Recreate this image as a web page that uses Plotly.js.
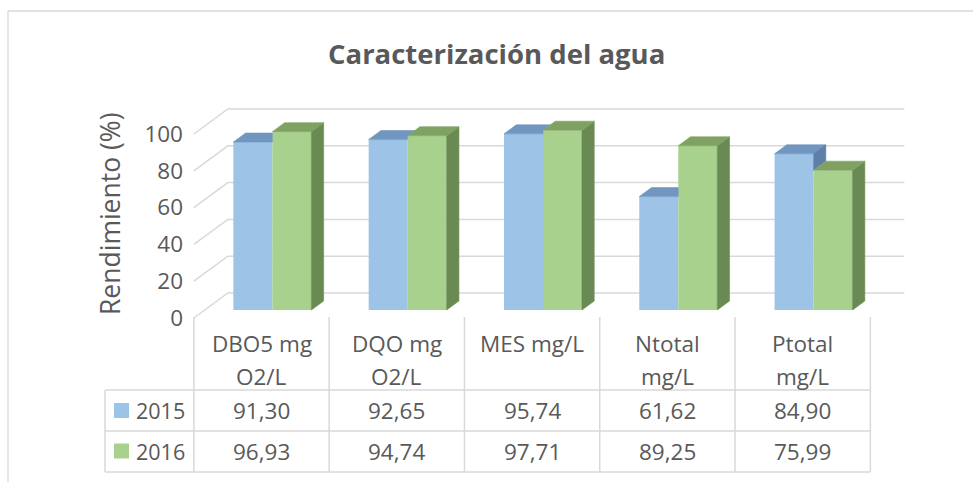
<!DOCTYPE html>
<html><head><meta charset="utf-8">
<script src="https://cdn.plot.ly/plotly-3.0.1.min.js"></script>
<style>html,body{margin:0;padding:0;background:#fff;} #chart{width:973px;height:482px;}</style>
</head><body><div id="chart"></div>
<script>
// ---- data ----
const chartTitle = "Caracterización del agua";
const yTitle = "Rendimiento (%)";
const categoryLines = [["DBO5 mg","O2/L"],["DQO mg","O2/L"],["MES mg/L"],["Ntotal","mg/L"],["Ptotal","mg/L"]];
const seriesNames = ["2015","2016"];
const values2015 = [91.30, 92.65, 95.74, 61.62, 84.90];
const values2016 = [96.93, 94.74, 97.71, 89.25, 75.99];
const yTicks = [0, 20, 40, 60, 80, 100];

// ---- styles ----
const TXT = '#595959', GRID = '#d9d9d9', FONT = 'Open Sans, sans-serif';
const blue = {front:'#9DC3E6', top:'#7196c0', side:'#5e7fa8'};
const green = {front:'#A9D18E', top:'#7fa263', side:'#6a8a53'};
const TABLE_FS = 22.5, TICK_FS = 22.5;

// ---- geometry (pixel mapping of the oblique 3D view) ----
const W = 973, H = 482;
const X0 = 261.5, XS = 135.3, Y0 = 318, YS = 1.84;
const xr = [-X0/XS, (W-X0)/XS], yr = [(Y0-H)/YS, Y0/YS];
const DX = 34/XS, DY = 25/YS;           // full floor depth offset in data units
const d0 = 0.32, d1 = 0.68;             // bar depth slab
const bx = d0*DX, by = d0*DY, ddx = (d1-d0)*DX, ddy = (d1-d0)*DY;
const BW = 39/XS;
const nCat = categoryLines.length;
const PX = p => p/W, PY = p => 1 - p/H;

const traces = [];
traces.push({type:'bar', name:seriesNames[0], x: values2015.map((v,i)=>i+bx-BW/2), y: values2015, base: by, width: BW,
  marker:{color:blue.front, line:{width:0}}, hoverinfo:'skip', showlegend:false});
traces.push({type:'bar', name:seriesNames[1], x: values2016.map((v,i)=>i+bx+BW/2), y: values2016, base: by, width: BW,
  marker:{color:green.front, line:{width:0}}, hoverinfo:'skip', showlegend:false});

function poly(pts, color){
  traces.push({type:'scatter', mode:'lines', x: pts.map(p=>p[0]).concat([pts[0][0]]), y: pts.map(p=>p[1]).concat([pts[0][1]]),
    fill:'toself', fillcolor: color, line:{color: color, width:0.6}, hoverinfo:'skip', showlegend:false});
}
for (let i = 0; i < nCat; i++) {
  const xb0 = i+bx-BW, xg0 = i+bx, xg1 = i+bx+BW;
  const vb = by + values2015[i], vg = by + values2016[i];
  if (vg >= vb) {
    poly([[xb0,vb],[xg0,vb],[xg0,Math.min(vg,vb+ddy)],[xg0+Math.max(0,vb+ddy-vg)*ddx/ddy, vb+ddy],[xb0+ddx,vb+ddy]], blue.top);
  } else {
    poly([[xb0,vb],[xg0,vb],[xg0+ddx,vb+ddy],[xb0+ddx,vb+ddy]], blue.top);
    poly([[xg0,vg],[xg0,vb],[xg0+ddx,vb+ddy],[xg0+ddx,vg+ddy]], blue.side);
  }
  poly([[xg1,by],[xg1,vg],[xg1+ddx,vg+ddy],[xg1+ddx,by+ddy]], green.side);
  poly([[xg0,vg],[xg1,vg],[xg1+ddx,vg+ddy],[xg0+ddx,vg+ddy]], green.top);
}

// ---- walls / gridlines ----
const shapes = [];
const xL = -0.5, xR = nCat - 0.5;
yTicks.forEach(v => {
  shapes.push({type:'path', xref:'x', yref:'y', layer:'below',
    path:`M ${xL},${v} L ${xL+DX},${v+DY} L ${xR+DX},${v+DY}`, line:{color:GRID, width:1.5}});
});
// chart border
shapes.push({type:'line', xref:'paper', yref:'paper', x0:PX(8), x1:PX(975), y0:PY(11), y1:PY(11), line:{color:GRID, width:1.3}});
shapes.push({type:'line', xref:'paper', yref:'paper', x0:PX(8), x1:PX(8), y0:PY(11), y1:PY(490), line:{color:GRID, width:1.3}});
// data table lines
const rowLines = [390, 431, 472];
for (let i = 0; i <= nCat; i++) {
  const x = PX(X0 + XS*(i-0.5));
  shapes.push({type:'line', xref:'paper', yref:'paper', x0:x, x1:x, y0:PY(317), y1:PY(472), line:{color:GRID, width:1.5}});
}
rowLines.forEach(y => shapes.push({type:'line', xref:'paper', yref:'paper', x0:PX(105), x1:PX(X0+XS*(nCat-0.5)), y0:PY(y), y1:PY(y), line:{color:GRID, width:1.5}}));
shapes.push({type:'line', xref:'paper', yref:'paper', x0:PX(105), x1:PX(105), y0:PY(390), y1:PY(472), line:{color:GRID, width:1.5}});

// ---- annotations ----
const ann = [];
ann.push({xref:'paper', yref:'paper', x:PX(496.5), y:PY(53), text:'<b>'+chartTitle+'</b>', showarrow:false,
  xanchor:'center', yanchor:'middle', font:{family:FONT, size:27.5, color:TXT}});
ann.push({xref:'paper', yref:'paper', x:PX(110), y:PY(214), text:yTitle, textangle:-90, showarrow:false,
  xanchor:'center', yanchor:'middle', font:{family:FONT, size:26.5, color:TXT}});
const lineY = [343, 376];
categoryLines.forEach((lines, i) => lines.forEach((t, k) => ann.push({xref:'paper', yref:'paper', x:PX(X0+XS*i), y:PY(lineY[k]),
  text:t, showarrow:false, xanchor:'center', yanchor:'middle', font:{family:FONT, size:TABLE_FS, color:TXT}})));
const rowY = [410.5, 451];
const seriesVals = [values2015, values2016];
const seriesCols = [blue.front, green.front];
seriesVals.forEach((vals, r) => {
  vals.forEach((v, i) => ann.push({xref:'paper', yref:'paper', x:PX(X0+XS*i), y:PY(rowY[r]), text:v.toFixed(2).replace('.', ','),
    showarrow:false, xanchor:'center', yanchor:'middle', font:{family:FONT, size:TABLE_FS, color:TXT}}));
  ann.push({xref:'paper', yref:'paper', x:PX(134), y:PY(rowY[r]), text:seriesNames[r], showarrow:false,
    xanchor:'left', yanchor:'middle', font:{family:FONT, size:TABLE_FS-1, color:TXT}});
  shapes.push({type:'rect', xref:'paper', yref:'paper', x0:PX(114), x1:PX(129), y0:PY(rowY[r]-7.5), y1:PY(rowY[r]+7.5),
    fillcolor:seriesCols[r], line:{width:0}});
});

const layout = {
  width:W, height:H, autosize:false, margin:{l:0,r:0,t:0,b:0}, paper_bgcolor:'#fff', plot_bgcolor:'rgba(0,0,0,0)',
  barmode:'overlay', showlegend:false,
  xaxis:{range:xr, visible:false, fixedrange:true},
  yaxis:{range:yr, anchor:'free', position:PX(183), showgrid:false, zeroline:false, showline:false, ticks:'',
    tickvals:yTicks, ticktext:yTicks.map(String), tickfont:{family:FONT, size:TICK_FS, color:TXT}, fixedrange:true},
  shapes:shapes, annotations:ann, font:{family:FONT}
};
Plotly.newPlot('chart', traces, layout, {staticPlot:true, displayModeBar:false});
</script></body></html>
